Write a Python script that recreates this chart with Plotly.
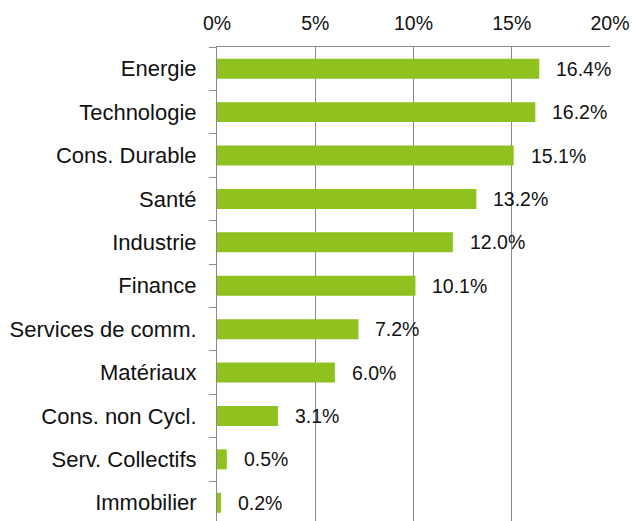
import plotly.graph_objects as go

categories = ["Energie", "Technologie", "Cons. Durable", "Santé", "Industrie", "Finance",
              "Services de comm.", "Matériaux", "Cons. non Cycl.", "Serv. Collectifs", "Immobilier"]
values = [16.4, 16.2, 15.1, 13.2, 12.0, 10.1, 7.2, 6.0, 3.1, 0.5, 0.2]
x_ticks = [0, 5, 10, 15, 20]
x_tick_labels = ["0%", "5%", "10%", "15%", "20%"]

BAR = "#8fc11f"
GRID = "#8a8a8a"
FONT = "Liberation Sans"

fig = go.Figure()
fig.add_trace(go.Bar(
    x=values, y=categories, orientation="h",
    marker=dict(color=BAR, line=dict(width=0)),
    width=0.46, hoverinfo="skip",
))

for c, v in zip(categories, values):
    fig.add_annotation(x=v, y=c, text=f"{v:.1f}%", showarrow=False,
                       xanchor="left", yanchor="middle", xshift=15,
                       font=dict(family=FONT, size=19.5, color="#111111"))

fig.update_layout(
    width=633, height=521,
    margin=dict(l=217, r=23, t=47, b=0),
    paper_bgcolor="white", plot_bgcolor="white",
    showlegend=False, bargap=0.54,
    xaxis=dict(side="top", range=[0, 20], tickvals=x_ticks, ticktext=x_tick_labels,
               showgrid=True, gridcolor=GRID, gridwidth=1,
               showline=True, linecolor=GRID, linewidth=1,
               zeroline=False, ticks="", ticklabelstandoff=8,
               tickfont=dict(family=FONT, size=19.5, color="#111111")),
    yaxis=dict(type="category", range=[10.42, -0.5], showgrid=False,
               showline=True, linecolor=GRID, linewidth=1,
               ticks="outside", tickson="boundaries", ticklen=7, tickcolor=GRID,
               ticklabelstandoff=15,
               tickfont=dict(family=FONT, size=22, color="#111111")),
)

fig.write_html("out.html")
